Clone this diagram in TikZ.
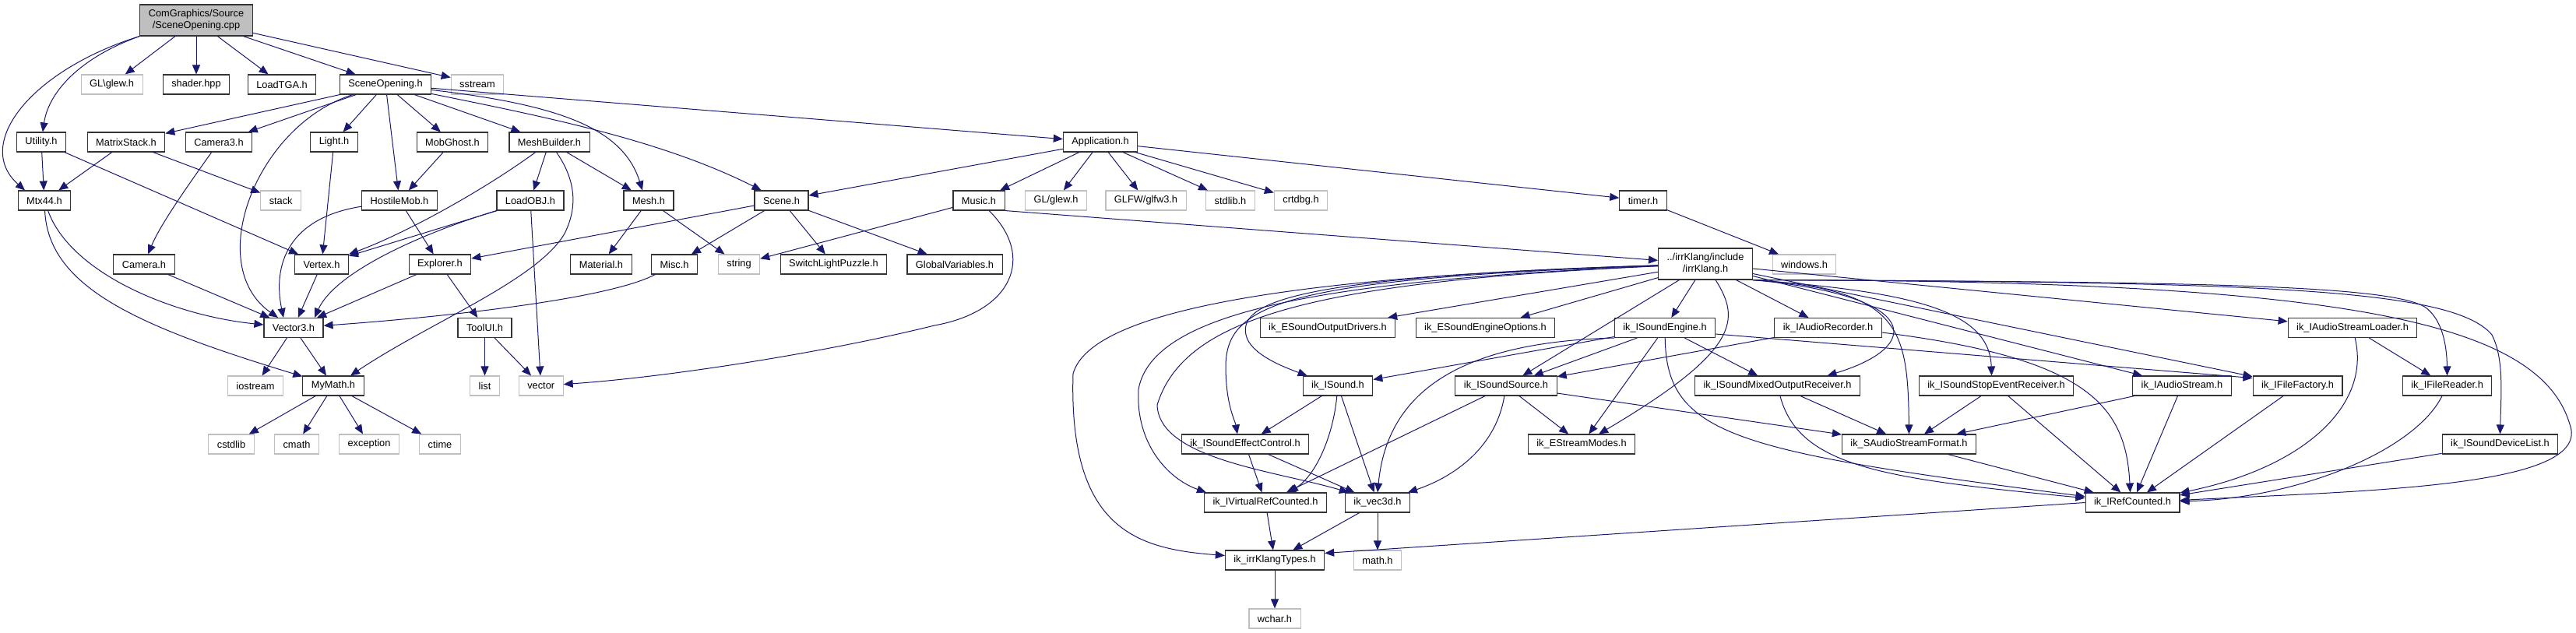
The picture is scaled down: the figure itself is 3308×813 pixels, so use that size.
\documentclass[tikz,border=0pt]{standalone}
\usepackage{fontspec}
\setmainfont{Liberation Sans}
\usetikzlibrary{arrows.meta}
\definecolor{edgeblue}{HTML}{191970}
\definecolor{grayline}{HTML}{BFBFBF}

\begin{document}
\begin{tikzpicture}[x=1pt, y=-1pt,
  every node/.style={font=\fontsize{12.8}{15}\selectfont},
  hdr/.style={draw=black!80, line width=1.1pt, fill=white, minimum height=25pt, inner xsep=11pt, inner ysep=2pt},
  sys/.style={hdr, draw=grayline},
  root/.style={hdr, fill=grayline, minimum height=40pt, align=center},
  dep/.style={draw=edgeblue, line width=1pt, -{Triangle[length=12pt,width=10pt]}}]
\useasboundingbox (0,0) rectangle (3308,813);
% row 0
\node[root] (cpp) at (252,26) {ComGraphics/Source\\/SceneOpening.cpp};
% row 1
\node[sys] (glewa) at (143.6,108.5) {GL\textbackslash glew.h};
\node[hdr] (shader) at (252,108.5) {shader.hpp};
\node[hdr] (loadtga) at (362,108.5) {LoadTGA.h};
\node[hdr] (soh) at (495,108.5) {SceneOpening.h};
\node[sys] (sstream) at (613,108.5) {sstream};
% row 2
\node[hdr] (utility) at (53,182.5) {Utility.h};
\node[hdr] (mstack) at (162,182.5) {MatrixStack.h};
\node[hdr] (camthree) at (281,182.5) {Camera3.h};
\node[hdr] (light) at (429,182.5) {Light.h};
\node[hdr] (mobghost) at (581,182.5) {MobGhost.h};
\node[hdr] (meshb) at (705.5,182.5) {MeshBuilder.h};
\node[hdr] (app) at (1413,182.5) {Application.h};
% row 3
\node[hdr] (mtx) at (57,257.5) {Mtx44.h};
\node[sys] (stack) at (360.7,257.5) {stack};
\node[hdr] (hostile) at (513,257.5) {HostileMob.h};
\node[hdr] (loadobj) at (681,257.5) {LoadOBJ.h};
\node[hdr] (mesh) at (833,257.5) {Mesh.h};
\node[hdr] (scene) at (1003.5,257.5) {Scene.h};
\node[hdr] (music) at (1257,257.5) {Music.h};
\node[sys] (glewb) at (1356,257.5) {GL/glew.h};
\node[sys] (glfw) at (1471.5,257.5) {GLFW/glfw3.h};
\node[sys] (stdlibh) at (1580,257.5) {stdlib.h};
\node[sys] (crtdbg) at (1670.5,257.5) {crtdbg.h};
\node[hdr] (timer) at (2110,257.5) {timer.h};
% row 4
\node[hdr] (camera) at (185,339.5) {Camera.h};
\node[hdr] (vertex) at (413,339.5) {Vertex.h};
\node[hdr] (explorer) at (565,339.5) {Explorer.h};
\node[hdr] (material) at (772,339.5) {Material.h};
\node[hdr] (misc) at (866,339.5) {Misc.h};
\node[sys] (string) at (949,339.5) {string};
\node[hdr] (switchlp) at (1070.5,339.5) {SwitchLightPuzzle.h};
\node[hdr] (globalv) at (1226,339.5) {GlobalVariables.h};
\node[hdr, minimum height=40pt, align=center] (irr) at (2190,339) {../irrKlang/include\\/irrKlang.h};
\node[sys] (windows) at (2317,339.5) {windows.h};
% row 5
\node[hdr] (vecthree) at (377,421) {Vector3.h};
\node[hdr] (toolui) at (622.5,421) {ToolUI.h};
\node[hdr] (esod) at (1705,421) {ik\_ESoundOutputDrivers.h};
\node[hdr] (eseo) at (1907.5,421) {ik\_ESoundEngineOptions.h};
\node[hdr] (isengine) at (2138,421) {ik\_ISoundEngine.h};
\node[hdr] (iarec) at (2347.5,421) {ik\_IAudioRecorder.h};
\node[hdr] (iasl) at (3021,421) {ik\_IAudioStreamLoader.h};
% row 6
\node[sys] (iostream) at (328,495.5) {iostream};
\node[hdr] (mymath) at (428,495.5) {MyMath.h};
\node[sys] (list) at (622.5,495.5) {list};
\node[sys] (vector) at (694.7,495.5) {vector};
\node[hdr] (isound) at (1718,495.5) {ik\_ISound.h};
\node[hdr] (issrc) at (1934,495.5) {ik\_ISoundSource.h};
\node[hdr] (ismor) at (2282.5,495.5) {ik\_ISoundMixedOutputReceiver.h};
\node[hdr] (issr) at (2563.5,495.5) {ik\_ISoundStopEventReceiver.h};
\node[hdr] (iastream) at (2802,495.5) {ik\_IAudioStream.h};
\node[hdr] (iff) at (2950.5,495.5) {ik\_IFileFactory.h};
\node[hdr] (ifr) at (3142.6,495.5) {ik\_IFileReader.h};
% row 7
\node[sys] (cstdlib) at (297,570.5) {cstdlib};
\node[sys] (cmath) at (381,570.5) {cmath};
\node[sys] (exception) at (474,570.5) {exception};
\node[sys] (ctime) at (565,570.5) {ctime};
\node[hdr] (isec) at (1599,570.5) {ik\_ISoundEffectControl.h};
\node[hdr] (esm) at (2031,570.5) {ik\_EStreamModes.h};
\node[hdr] (sasf) at (2451.5,570.5) {ik\_SAudioStreamFormat.h};
\node[hdr] (isdl) at (3210.5,570.5) {ik\_ISoundDeviceList.h};
% row 8
\node[hdr] (ivrc) at (1625,645.5) {ik\_IVirtualRefCounted.h};
\node[hdr] (vecd) at (1769,645.5) {ik\_vec3d.h};
\node[hdr] (iref) at (2738.5,645.5) {ik\_IRefCounted.h};
% rows 9 and 10
\node[hdr] (ikt) at (1637,719.5) {ik\_irrKlangTypes.h};
\node[sys] (mathh) at (1769,719.5) {math.h};
\node[sys] (wchar) at (1637,794.5) {wchar.h};

% SceneOpening.cpp
\draw[dep] (cpp) -- (glewa);
\draw[dep] (cpp) -- (shader);
\draw[dep] (cpp) -- (loadtga);
\draw[dep] (cpp) -- (soh);
\draw[dep] (cpp) -- ([yshift=9pt]sstream.west);
\draw[dep] (cpp.south west) .. controls (100,75) and (62,120) .. (utility);
\draw[dep] (cpp.south west) .. controls (40,90) and (-35,185) .. ([xshift=-25pt]mtx.north);
% SceneOpening.h
\draw[dep] (soh) -- (mstack);
\draw[dep] (soh) -- (camthree);
\draw[dep] (soh) .. controls (330,160) and (260,340) .. ([xshift=-20pt]vecthree.north);
\draw[dep] (soh) -- (light);
\draw[dep] (soh) -- (hostile);
\draw[dep] (soh) -- (mobghost);
\draw[dep] (soh) -- (meshb);
\draw[dep] (soh) .. controls (720,135) and (800,165) .. ([xshift=-8pt]mesh.north);
\draw[dep] (soh) .. controls (700,150) and (850,180) .. (scene);
\draw[dep] (soh) -- (app);
% left headers
\draw[dep] (utility) -- (mtx);
\draw[dep] (utility) -- (vertex);
\draw[dep] (mstack) -- (mtx);
\draw[dep] (mstack) -- (stack);
\draw[dep] (camthree) .. controls (240,240) and (205,290) .. (camera);
\draw[dep] (light) -- (vertex);
\draw[dep] (mobghost) -- (hostile);
\draw[dep] (hostile) .. controls (370,280) and (350,340) .. ([xshift=-13pt]vecthree.north);
\draw[dep] (hostile) -- (explorer);
% MeshBuilder, LoadOBJ, Mesh
\draw[dep] (meshb) .. controls (620,245) and (520,300) .. (vertex);
\draw[dep] (meshb) -- (loadobj);
\draw[dep] (meshb) -- (mesh);
\draw[dep] (meshb) .. controls (735,225) and (745,260) .. (725,300) .. controls (690,360) and (550,415) .. ([xshift=22pt]mymath.north);
\draw[dep] (loadobj) -- (vertex);
\draw[dep] (loadobj) .. controls (540,300) and (430,350) .. ([xshift=27pt]vecthree.north);
\draw[dep] (loadobj) -- (vector);
\draw[dep] (mesh) -- (material);
\draw[dep] (mesh) -- (string);
% Scene, Application, Music
\draw[dep] (scene) -- (explorer);
\draw[dep] (scene) -- (misc);
\draw[dep] (scene) -- (switchlp);
\draw[dep] (scene) -- (globalv);
\draw[dep] (app) -- (scene);
\draw[dep] (app) -- (music);
\draw[dep] (app) -- (glewb);
\draw[dep] (app) -- (glfw);
\draw[dep] (app) -- (stdlibh);
\draw[dep] (app) -- (crtdbg);
\draw[dep] (app) -- (timer);
\draw[dep] (timer) -- (windows);
\draw[dep] (music) -- (string);
\draw[dep] (music) .. controls (1330,330) and (1300,400) .. (1200,418) .. controls (1050,455) and (850,485) .. (vector);
\draw[dep] (music.south east) -- (irr);
% Vector3 and MyMath
\draw[dep] (mtx) .. controls (90,350) and (220,405) .. (vecthree);
\draw[dep] (mtx) .. controls (62,370) and (180,420) .. (mymath);
\draw[dep] (camera) -- (vecthree);
\draw[dep] (vertex) -- (vecthree);
\draw[dep] (explorer) -- (vecthree);
\draw[dep] (misc) .. controls (780,385) and (560,408) .. (vecthree);
\draw[dep] (explorer) -- (toolui);
\draw[dep] (toolui) -- (list);
\draw[dep] (toolui) -- (vector);
\draw[dep] (vecthree) -- (iostream);
\draw[dep] (vecthree) -- (mymath);
\draw[dep] (mymath) -- (cstdlib);
\draw[dep] (mymath) -- (cmath);
\draw[dep] (mymath) -- (exception);
\draw[dep] (mymath) -- (ctime);
% irrKlang.h
\draw[dep] (irr) -- (esod);
\draw[dep] (irr) -- (eseo);
\draw[dep] (irr) -- (isengine);
\draw[dep] (irr) -- (issrc);
\draw[dep] (irr) -- (iarec);
\draw[dep] (irr) -- (iastream);
\draw[dep] (irr) -- (iff);
\draw[dep] (irr) -- (iasl);
\draw[dep] (irr) .. controls (2235,410) and (2235,450) .. (esm);
\draw[dep] (irr.south east) .. controls (2470,380) and (2470,445) .. ([xshift=64pt]ismor.north);
\draw[dep] (irr.south east) .. controls (2440,372) and (2450,420) .. (sasf.north);
\draw[dep] (irr.south east) .. controls (2460,375) and (2555,400) .. ([xshift=-6pt]issr.north);
\draw[dep] (irr.south east) .. controls (2800,362) and (3070,365) .. (3115,395) .. controls (3135,410) and (3142,440) .. (ifr.north);
\draw[dep] (irr.south east) .. controls (2900,362) and (3150,370) .. (3200,430) .. controls (3215,460) and (3212,500) .. (isdl.north);
\draw[dep] (irr.south east) .. controls (3000,360) and (3260,410) .. (3300,545) .. controls (3330,625) and (3050,630) .. (iref);
\draw[dep] (irr) .. controls (1680,355) and (1590,385) .. (1600,430) .. controls (1605,455) and (1650,472) .. ([xshift=6pt]isound.north west);
\draw[dep] (irr) .. controls (1650,358) and (1575,390) .. (1574,470) .. controls (1574,520) and (1586,540) .. ([xshift=-10pt]isec.north);
\draw[dep] (irr) .. controls (1680,362) and (1520,410) .. (1486,520) .. controls (1488,590) and (1640,605) .. ([xshift=5pt]vecd.north west);
\draw[dep] (irr) .. controls (1700,360) and (1480,400) .. (1462,500) .. controls (1458,570) and (1500,615) .. ([xshift=3pt]ivrc.north west);
\draw[dep] (irr) .. controls (1650,355) and (1400,400) .. (1378,480) .. controls (1372,680) and (1460,705) .. ([yshift=6pt]ikt.west);
% ik_ISoundEngine.h
\draw[dep] (isengine) -- (isound);
\draw[dep] (isengine) -- (issrc);
\draw[dep] (isengine.south west) .. controls (1850,440) and (1780,520) .. (vecd.north);
\draw[dep] (isengine) -- (esm);
\draw[dep] (isengine) -- (ismor);
\draw[dep] (isengine) .. controls (2140,560) and (2230,580) .. (iref);
\draw[dep] ([yshift=-8pt]isengine.east) -- ([yshift=10pt]iff.west);
% ik_IAudioRecorder.h
\draw[dep] (iarec) -- (issrc);
\draw[dep] ([yshift=-6pt]iarec.east) .. controls (2680,460) and (2730,520) .. ([xshift=-3pt]iref.north);
% ik_ISound.h, ik_ISoundSource.h, ik_ISoundEffectControl.h
\draw[dep] (isound) -- (isec);
\draw[dep] (isound) .. controls (1712,560) and (1690,610) .. ([xshift=30pt]ivrc.north);
\draw[dep] (isound) -- (vecd);
\draw[dep] (issrc) -- (ivrc);
\draw[dep] (issrc) .. controls (1920,580) and (1860,615) .. (vecd);
\draw[dep] (issrc) -- (esm);
\draw[dep] (issrc) -- (sasf);
\draw[dep] (isec) -- (ivrc);
\draw[dep] (isec) -- (vecd);
% receivers and streams
\draw[dep] (ismor) -- (sasf);
\draw[dep] (ismor) .. controls (2310,600) and (2420,615) .. (iref);
\draw[dep] (issr) -- (sasf);
\draw[dep] (issr) -- (iref);
\draw[dep] (iastream) -- (sasf);
\draw[dep] (iastream) -- (iref);
\draw[dep] (iff) -- (iref);
\draw[dep] (iasl) -- (ifr);
\draw[dep] (iasl) .. controls (3045,520) and (2960,600) .. (iref);
\draw[dep] (ifr) .. controls (3100,580) and (2950,640) .. (iref);
\draw[dep] (isdl) -- (iref);
\draw[dep] (sasf) -- (iref);
% base types
\draw[dep] (ivrc) -- (ikt);
\draw[dep] (vecd) -- (ikt);
\draw[dep] (vecd) -- (mathh);
\draw[dep] (iref.west) -- ([yshift=9pt]ikt.east);
\draw[dep] (ikt) -- (wchar);
\end{tikzpicture}
\end{document}
